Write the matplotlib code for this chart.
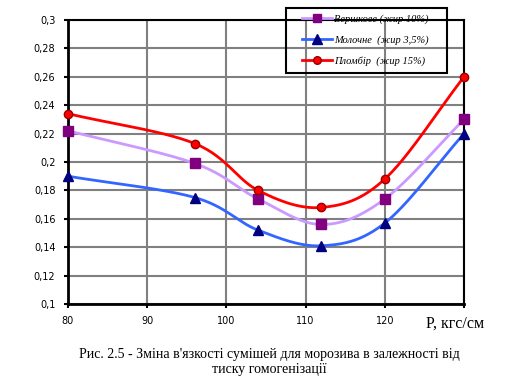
import numpy as np
import matplotlib
matplotlib.use("Agg")
import matplotlib.pyplot as plt
from matplotlib.patches import Rectangle

pressure = [80, 96, 104, 112, 120, 130]
vershkove = [0.222, 0.199, 0.174, 0.156, 0.174, 0.230]
molochne = [0.190, 0.175, 0.152, 0.141, 0.157, 0.220]
plombir = [0.234, 0.213, 0.180, 0.168, 0.188, 0.260]

labels = ["Вершкове (жир 10%)", "Молочне  (жир 3,5%)", "Пломбір  (жир 15%)"]
x_ticks = [80, 90, 100, 110, 120, 130]
x_tick_labels = ["80", "90", "100", "110", "120", ""]
y_ticks = [0.1, 0.12, 0.14, 0.16, 0.18, 0.2, 0.22, 0.24, 0.26, 0.28, 0.3]


def smooth(x, y, n=30):
    # catmull-rom style curve through the points, like Excel's smoothed line
    x = np.asarray(x, float)
    y = np.asarray(y, float)
    px = np.concatenate([[2 * x[0] - x[1]], x, [2 * x[-1] - x[-2]]])
    py = np.concatenate([[2 * y[0] - y[1]], y, [2 * y[-1] - y[-2]]])
    xs, ys = [], []
    t = np.linspace(0, 1, n)
    for i in range(1, len(px) - 2):
        for p, out in ((px, xs), (py, ys)):
            p0, p1, p2, p3 = p[i - 1], p[i], p[i + 1], p[i + 2]
            out.extend(0.5 * (2 * p1 + (-p0 + p2) * t
                              + (2 * p0 - 5 * p1 + 4 * p2 - p3) * t ** 2
                              + (-p0 + 3 * p1 - 3 * p2 + p3) * t ** 3))
    return xs, ys


W, H = 507, 392
fig = plt.figure(figsize=(W / 100, H / 100), dpi=100)
ax = fig.add_axes([68 / W, 1 - 304 / H, (464 - 68) / W, (304 - 20) / H])

styles = [
    (vershkove, "#CC99FF", "s", "#800080", "#800080", 6.5),
    (molochne, "#3366FF", "^", "#000080", "#000080", 7),
    (plombir, "#FF0000", "o", "#FF0000", "#990000", 6),
]
handles = []
for (vals, lc, m, mfc, mec, ms), lab in zip(styles, labels):
    sx, sy = smooth(pressure, vals)
    ax.plot(sx, sy, color=lc, lw=2, zorder=3)
    ax.plot(pressure, vals, ls="none", marker=m, ms=ms, mfc=mfc, mec=mec,
            mew=1, zorder=4, clip_on=False)
    h, = ax.plot([], [], color=lc, lw=2, marker=m, ms=ms - 0.5, mfc=mfc, mec=mec)
    handles.append(h)

ax.set_xlim(80, 130)
ax.set_ylim(0.1, 0.3)
ax.set_xticks(x_ticks)
ax.set_xticklabels(x_tick_labels)
ax.set_yticks(y_ticks)
ax.set_yticklabels([f"{v:g}".replace(".", ",") for v in y_ticks])
ax.grid(True, color="#808080", lw=1.5, zorder=0)
ax.set_axisbelow(True)
ax.tick_params(labelsize=7, length=3, width=1.5, direction="out", pad=6)
for s in ax.spines.values():
    s.set_color("black")
    s.set_linewidth(1.5)
ax.spines["left"].set_linewidth(2)
ax.spines["bottom"].set_linewidth(2)

ax.text((455 - 68) / 396, -0.04, "P, кгс/см", transform=ax.transAxes,
        ha="center", va="top", fontsize=11.5, family="Liberation Serif")

# legend box drawn separately, no fill so the grid shows through
fig.patches.append(Rectangle((286 / W, 1 - 73 / H), (447 - 286) / W, (73 - 8) / H,
                             transform=fig.transFigure, fill=False,
                             edgecolor="black", lw=1.5, zorder=5))
fig.legend(handles, labels, loc="upper left", bbox_to_anchor=(302 / W, 1 - 14 / H),
           prop={"family": "Liberation Serif", "style": "italic", "size": 7.5},
           frameon=False, handlelength=2.9, handletextpad=0.15, borderpad=0,
           labelspacing=1.1, borderaxespad=0)

fig.text(269 / W, 1 - 348 / H,
         "Рис. 2.5 - Зміна в'язкості сумішей для морозива в залежності від\nтиску гомогенізації",
         ha="center", va="top", fontsize=10, family="Liberation Serif", linespacing=1.2)

fig.savefig("out.png", dpi=100)
